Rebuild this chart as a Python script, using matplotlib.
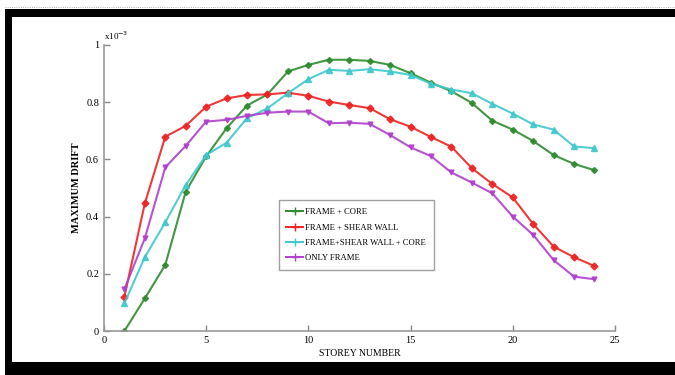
import matplotlib
matplotlib.use("Agg")
import matplotlib.pyplot as plt
from matplotlib.patches import Rectangle

storey = list(range(1, 25))
frame_core = [0.0, 0.114, 0.231, 0.487, 0.61, 0.709, 0.788, 0.827, 0.907, 0.930, 0.948, 0.948,
              0.944, 0.930, 0.901, 0.868, 0.838, 0.797, 0.735, 0.704, 0.664, 0.615, 0.584, 0.562]
frame_shear = [0.120, 0.446, 0.679, 0.717, 0.784, 0.813, 0.825, 0.827, 0.833, 0.822, 0.802, 0.790,
               0.779, 0.740, 0.714, 0.678, 0.644, 0.569, 0.514, 0.467, 0.374, 0.295, 0.258, 0.227]
frame_shear_core = [0.097, 0.258, 0.380, 0.510, 0.615, 0.658, 0.744, 0.778, 0.831, 0.880, 0.913, 0.909,
                    0.915, 0.907, 0.895, 0.864, 0.844, 0.831, 0.794, 0.760, 0.722, 0.704, 0.645, 0.639]
only_frame = [0.146, 0.324, 0.572, 0.647, 0.732, 0.738, 0.752, 0.763, 0.767, 0.767, 0.726, 0.728,
              0.724, 0.685, 0.642, 0.611, 0.554, 0.519, 0.481, 0.400, 0.336, 0.248, 0.190, 0.181]
labels = ["FRAME + CORE", "FRAME + SHEAR WALL", "FRAME+SHEAR WALL + CORE", "ONLY FRAME"]
x_ticks = [0, 5, 10, 15, 20, 25]
y_ticks = [0, 0.2, 0.4, 0.6, 0.8, 1.0]
y_tick_labels = ["0", "0.2", "0.4", "0.6", "0.8", "1"]

plt.rcParams['font.family'] = ['Liberation Serif', 'DejaVu Serif']

fig = plt.figure(figsize=(6.75, 3.75), dpi=100)
ax = fig.add_axes([0.154, 0.1173, 0.757, 0.763])

series = [
    (frame_core, "#2e8b2e", "D", 3.0),
    (frame_shear, "#ee2222", "D", 3.5),
    (frame_shear_core, "#40c8cc", "^", 4.0),
    (only_frame, "#b040cc", "v", 3.5),
]
for vals, col, mk, ms in series:
    ax.plot(storey, vals, color=col, marker=mk, markersize=ms, linewidth=1.5, alpha=0.9)

# legend with '+' style markers
handles = [plt.Line2D([], [], color=c, marker='+', markersize=6, linewidth=1.4) for _, c, _, _ in series]
leg = ax.legend(handles, labels, loc='lower left', bbox_to_anchor=(0.342, 0.213), fontsize=6.2,
                frameon=True, fancybox=False, edgecolor='#888888', handlelength=1.9,
                borderpad=0.9, labelspacing=0.85, handletextpad=0.3, borderaxespad=0.0)
leg.get_frame().set_linewidth(1.0)

ax.set_xlim(0, 25)
ax.set_ylim(0, 1)
ax.set_xticks(x_ticks)
ax.set_yticks(y_ticks)
ax.set_yticklabels(y_tick_labels)
ax.tick_params(direction='in', length=4, labelsize=7.5, color='#888888', width=1.0)
for s in ['top', 'right']:
    ax.spines[s].set_visible(False)
for s in ['left', 'bottom']:
    ax.spines[s].set_color('#999999')
    ax.spines[s].set_linewidth(1.2)

ax.set_xlabel("STOREY NUMBER", fontsize=7, labelpad=3)
ax.set_ylabel("MAXIMUM DRIFT", fontsize=7.5, fontweight='bold', labelpad=4)
ax.text(0.0, 1.01, r"x10$^{-3}$", transform=ax.transAxes, fontsize=6.5, ha='left', va='bottom')

# black frame around image
W, H = 675.0, 375.0
def rect(x0, y0, x1, y1):
    fig.add_artist(Rectangle((x0 / W, 1 - y1 / H), (x1 - x0) / W, (y1 - y0) / H,
                             transform=fig.transFigure, facecolor='black', edgecolor='none'))
rect(5, 9, 675, 17)
rect(5, 9, 12, 375)
rect(5, 362, 675, 375)
fig.add_artist(plt.Line2D([5 / W, 1], [1 - 7 / H, 1 - 7 / H], transform=fig.transFigure,
                          color='#999999', linewidth=0.6, linestyle=':'))

fig.savefig("out.png", dpi=100)
